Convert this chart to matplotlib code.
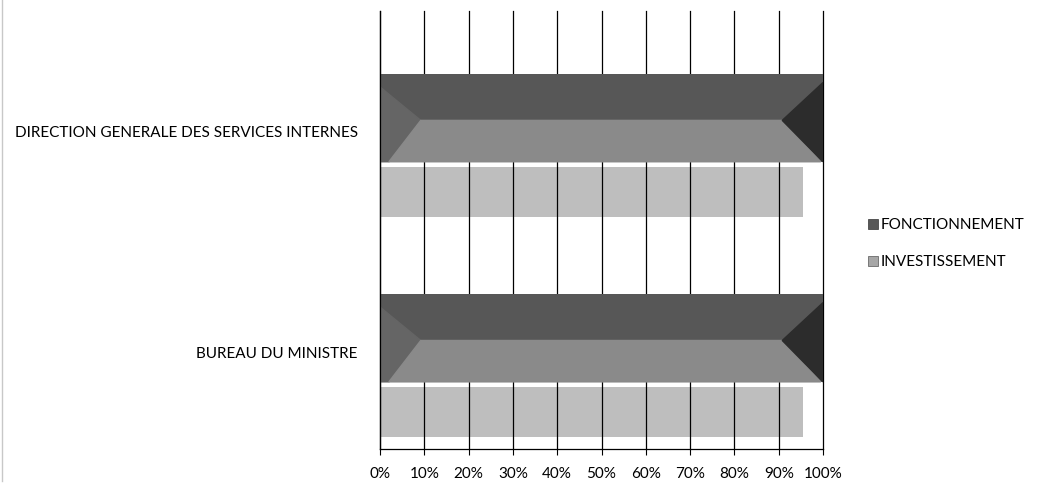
import matplotlib
matplotlib.use("Agg")
import matplotlib.pyplot as plt
from matplotlib.patches import Polygon, Rectangle
from matplotlib.lines import Line2D

categories = ["DIRECTION GENERALE DES SERVICES INTERNES", "BUREAU DU MINISTRE"]
series_names = ["FONCTIONNEMENT", "INVESTISSEMENT"]
fonctionnement = [1.00, 1.00]
investissement = [0.955, 0.955]
tick_labels = ["0%", "10%", "20%", "30%", "40%", "50%", "60%", "70%", "80%", "90%", "100%"]

plt.rcParams['font.family'] = ['Lato', 'DejaVu Sans']

W, H = 1043, 485
fig = plt.figure(figsize=(W / 100, H / 100), dpi=100)
fig.patch.set_facecolor("white")
ax = fig.add_axes([380 / W, 1 - 450 / H, (823 - 380) / W, (450 - 12) / H])

ypos = [0, 1]
dark_off, dark_h = -0.06, 0.40
light_off, light_h = 0.277, 0.227

ax.set_xlim(0, 1)
ax.set_ylim(1.445, -0.545)
ax.set_xticks([i / 10 for i in range(11)])
ax.set_xticklabels(tick_labels)
for i in range(11):
    ax.axvline(i / 10, color="black", linewidth=0.9, zorder=1, clip_on=False)

for y, f, inv in zip(ypos, fonctionnement, investissement):
    # light bar (investissement)
    ax.barh(y + light_off, inv, height=light_h, color="#b3b3b3", alpha=0.85,
            zorder=0.5, edgecolor="none")
    # dark bevelled bar (fonctionnement)
    yc = y + dark_off
    top, bot = yc - dark_h / 2, yc + dark_h / 2
    mid = top + 0.53 * dark_h
    bev = 0.092 * f
    ax.barh(yc, f, height=dark_h, color="#575757", zorder=2, edgecolor="none")
    ax.add_patch(Polygon([(0.0, top + 0.06), (bev, mid), (0.02 * f, bot), (0.0, bot)],
                         closed=True, color="#656565", zorder=2.1))
    ax.add_patch(Polygon([(bev, mid), (f - bev, mid), (f - 0.005, bot), (0.02 * f, bot)],
                         closed=True, color="#8a8a8a", zorder=2.2))
    ax.add_patch(Polygon([(f, top + 0.04), (f - bev, mid), (f, bot)],
                         closed=True, color="#2c2c2c", zorder=2.3))

ax.set_yticks(ypos)
ax.set_yticklabels(categories)
ax.tick_params(axis="y", length=0, pad=16, labelsize=11)
ax.tick_params(axis="x", length=4, color="black", pad=8, labelsize=11)
for s in ["top", "right"]:
    ax.spines[s].set_visible(False)
for s in ["left", "bottom"]:
    ax.spines[s].set_color("black")
    ax.spines[s].set_linewidth(0.9)

# legend
fig.patches.append(Rectangle((868 / W, 1 - 230 / H), 10 / W, 10 / H, transform=fig.transFigure,
                             facecolor="#575757", edgecolor="#333333", linewidth=0.5))
fig.text(881 / W, 1 - 225 / H, series_names[0], fontsize=11, va="center", ha="left")
fig.patches.append(Rectangle((868 / W, 1 - 267 / H), 10 / W, 10 / H, transform=fig.transFigure,
                             facecolor="#a6a6a6", edgecolor="#555555", linewidth=0.5))
fig.text(881 / W, 1 - 262 / H, series_names[1], fontsize=11, va="center", ha="left")

# faint outer border on the left edge
fig.lines.append(Line2D([1.5 / W, 1.5 / W], [1 - 482 / H, 1.0], transform=fig.transFigure,
                        color="#c8c8c8", linewidth=1))

fig.savefig("out.png", dpi=100)
